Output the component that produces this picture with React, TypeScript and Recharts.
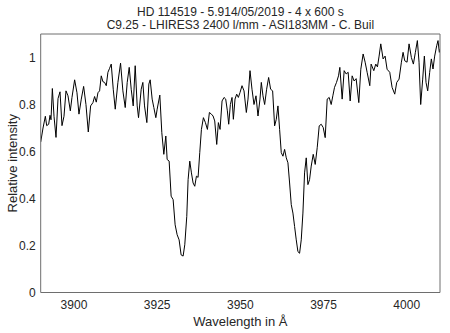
import React from 'react';
import { LineChart, Line, XAxis, YAxis, Label } from 'recharts';

const wavelengths = [
  3890.0, 3890.7, 3891.4, 3891.8, 3892.4, 3892.8, 3893.1, 3893.5, 3894.0, 3894.6,
  3895.2, 3895.8, 3896.4, 3897.0, 3897.6, 3898.2, 3898.9, 3899.4, 3900.2, 3900.9,
  3901.5, 3902.2, 3902.9, 3903.6, 3904.3, 3905.0, 3905.7, 3906.2, 3906.7, 3907.2,
  3907.7, 3908.2, 3908.7, 3909.2, 3909.7, 3910.2, 3910.7, 3911.2, 3911.8, 3912.4,
  3913.2, 3914.0, 3914.7, 3915.4, 3916.0, 3916.6, 3917.2, 3917.8, 3918.4, 3919.0,
  3919.4, 3920.2, 3920.7, 3921.2, 3921.9, 3922.5, 3922.9, 3923.5, 3924.0, 3924.6,
  3925.0, 3925.8, 3926.4, 3927.0, 3927.6, 3928.0, 3928.6, 3929.2, 3929.8, 3930.4,
  3931.0, 3931.6, 3932.2, 3932.8, 3933.3, 3933.9, 3934.3, 3934.8, 3935.3, 3935.8,
  3936.3, 3936.8, 3937.3, 3937.8, 3938.3, 3938.9, 3939.5, 3940.1, 3940.7, 3941.3,
  3941.8, 3942.3, 3942.9, 3943.4, 3943.9, 3944.5, 3945.1, 3945.6, 3946.1, 3946.5,
  3947.0, 3947.5, 3947.9, 3948.4, 3948.9, 3949.4, 3949.9, 3950.5, 3951.1, 3951.8,
  3952.3, 3952.9, 3953.5, 3954.1, 3954.7, 3955.3, 3955.9, 3956.3, 3956.8, 3957.3,
  3957.9, 3958.5, 3959.1, 3959.7, 3960.3, 3960.8, 3961.3, 3961.8, 3962.3, 3962.8,
  3963.3, 3963.8, 3964.3, 3964.8, 3965.3, 3965.8, 3966.3, 3966.8, 3967.3, 3967.8,
  3968.3, 3968.8, 3969.3, 3969.8, 3970.3, 3970.8, 3971.3, 3971.9, 3972.5, 3973.1,
  3973.7, 3974.3, 3974.9, 3975.5, 3976.1, 3976.7, 3977.3, 3977.8, 3978.3, 3978.9,
  3979.5, 3979.9, 3980.6, 3981.2, 3981.8, 3982.4, 3983.0, 3983.6, 3984.2, 3984.8,
  3985.6, 3986.2, 3986.9, 3987.5, 3988.1, 3988.9, 3989.3, 3990.1, 3990.7, 3991.2,
  3991.7, 3992.2, 3992.9, 3993.5, 3994.1, 3994.9, 3995.6, 3996.4, 3997.0, 3997.7,
  3998.4, 3998.9, 3999.4, 4000.1, 4000.7, 4001.4, 4002.0, 4002.6, 4003.2, 4003.7,
  4004.2, 4004.8, 4005.3, 4005.8, 4006.3, 4006.9, 4007.4, 4007.9, 4008.4, 4009.0,
  4009.4, 4009.8, 4010.0,
];

const intensities = [
  0.64, 0.70, 0.75, 0.71, 0.716, 0.754, 0.735, 0.868, 0.75, 0.66,
  0.825, 0.854, 0.71, 0.75, 0.858, 0.837, 0.773, 0.83, 0.905, 0.85,
  0.759, 0.823, 0.877, 0.80, 0.683, 0.794, 0.808, 0.834, 0.81, 0.85,
  0.858, 0.922, 0.897, 0.894, 0.88, 0.937, 0.954, 0.972, 0.865, 0.78,
  0.894, 0.976, 0.858, 0.787, 0.894, 0.958, 0.865, 0.794, 0.965, 0.794,
  0.744, 0.865, 0.894, 0.794, 0.723, 0.887, 0.905, 0.823, 0.787, 0.744,
  0.78, 0.84, 0.68, 0.588, 0.666, 0.566, 0.559, 0.41, 0.395, 0.288,
  0.246, 0.224, 0.16, 0.155, 0.203, 0.324, 0.48, 0.559, 0.509, 0.466,
  0.452, 0.495, 0.49, 0.595, 0.694, 0.744, 0.723, 0.694, 0.766, 0.759,
  0.751, 0.73, 0.63, 0.723, 0.694, 0.815, 0.83, 0.823, 0.773, 0.716,
  0.80, 0.83, 0.737, 0.823, 0.844, 0.83, 0.851, 0.88, 0.858, 0.766,
  0.823, 0.944, 0.865, 0.80, 0.837, 0.751, 0.823, 0.894, 0.837, 0.80,
  0.865, 0.915, 0.865, 0.858, 0.709, 0.737, 0.794, 0.694, 0.595, 0.58,
  0.609, 0.573, 0.552, 0.466, 0.374, 0.338, 0.281, 0.224, 0.174, 0.167,
  0.224, 0.338, 0.509, 0.573, 0.459, 0.48, 0.538, 0.588, 0.545, 0.616,
  0.709, 0.716, 0.702, 0.659, 0.823, 0.83, 0.80, 0.837, 0.873, 0.894,
  0.922, 0.958, 0.823, 0.944, 0.93, 0.937, 0.815, 0.922, 0.9, 0.91,
  0.808, 0.95, 1.015, 0.98, 0.937, 0.88, 0.972, 0.944, 0.972, 0.96,
  1.006, 1.058, 0.994, 1.006, 0.95, 0.937, 0.873, 0.844, 0.894, 0.908,
  0.98, 1.022, 0.986, 0.98, 1.058, 1.0, 0.972, 1.022, 1.072, 0.98,
  0.80, 0.908, 1.006, 0.894, 0.858, 0.937, 0.994, 0.951, 1.006, 1.05,
  1.072, 1.022, 1.036,
];

const xTicks = [3900, 3925, 3950, 3975, 4000];
const yTicks = [0, 0.2, 0.4, 0.6, 0.8, 1];
const xDomain = [3890, 4010];
const yDomain = [0, 1.1];
const titleLines = [
  'HD 114519 - 5.914/05/2019 - 4 x 600 s',
  'C9.25 - LHIRES3 2400 l/mm - ASI183MM - C. Buil',
];
const xLabel = 'Wavelength in Å';
const yLabel = 'Relative intensity';

const data = wavelengths.map((w, i) => ({ w, v: intensities[i] }));

const FONT = '"Liberation Sans", Arial, Helvetica, sans-serif';
const TEXT = '#262626';
const AXIS = '#6e6e6e';

const YLabelContent = (props: any) => {
  const vb = props.viewBox || { x: 0, y: 34, width: 41, height: 258 };
  const cx = vb.x + 12.5;
  const cy = vb.y + vb.height / 2;
  return (
    <text
      x={cx}
      y={cy}
      transform={`rotate(-90 ${cx} ${cy})`}
      textAnchor="middle"
      dominantBaseline="central"
      fontSize={13}
      fontFamily={FONT}
      fill={TEXT}
    >
      {yLabel}
    </text>
  );
};

export default function App() {
  return (
    <div style={{ position: 'absolute', left: 0, top: 0, width: 450, height: 333, background: '#fff', fontFamily: FONT }}>
      <LineChart width={450} height={333} data={data} margin={{ top: 34, right: 10, bottom: 0, left: 0 }}>
        <XAxis
          xAxisId="x"
          dataKey="w"
          type="number"
          domain={xDomain}
          ticks={xTicks}
          allowDataOverflow
          tickLine={false}
          axisLine={{ stroke: AXIS }}
          height={40.5}
          tickSize={6}
          tickMargin={2}
          tick={{ fill: TEXT, fontSize: 12, fontFamily: FONT }}
        >
          <Label value={xLabel} position="insideBottom" offset={7.5} style={{ fontSize: 13, fill: TEXT, fontFamily: FONT }} />
        </XAxis>
        <XAxis
          xAxisId="xb"
          dataKey="w"
          type="number"
          orientation="bottom"
          mirror
          domain={xDomain}
          ticks={xTicks}
          allowDataOverflow
          tick={false}
          tickSize={4}
          axisLine={false}
          tickLine={{ stroke: AXIS }}
        />
        <XAxis
          xAxisId="xt"
          dataKey="w"
          type="number"
          orientation="top"
          mirror
          domain={xDomain}
          ticks={xTicks}
          allowDataOverflow
          tick={false}
          tickSize={4}
          axisLine={{ stroke: AXIS }}
          tickLine={{ stroke: AXIS }}
        />
        <YAxis
          yAxisId="y"
          type="number"
          domain={yDomain}
          ticks={yTicks}
          allowDataOverflow
          width={40.7}
          tickLine={false}
          axisLine={{ stroke: AXIS }}
          tickSize={3}
          tickMargin={2}
          tick={{ fill: TEXT, fontSize: 12, fontFamily: FONT }}
        >
          <Label content={YLabelContent} />
        </YAxis>
        <YAxis
          yAxisId="yl"
          type="number"
          orientation="left"
          mirror
          domain={yDomain}
          ticks={yTicks}
          allowDataOverflow
          tick={false}
          tickSize={4}
          axisLine={false}
          tickLine={{ stroke: AXIS }}
        />
        <YAxis
          yAxisId="yr"
          type="number"
          orientation="right"
          mirror
          domain={yDomain}
          ticks={yTicks}
          allowDataOverflow
          tick={false}
          tickSize={4}
          axisLine={{ stroke: AXIS }}
          tickLine={{ stroke: AXIS }}
        />
        <Line
          xAxisId="x"
          yAxisId="y"
          dataKey="v"
          type="linear"
          stroke="#000"
          strokeWidth={1}
          dot={false}
          isAnimationActive={false}
        />
      </LineChart>
      <svg width={450} height={34} style={{ position: 'absolute', left: 0, top: 0, pointerEvents: 'none' }}>
        <text x={240.4} y={15.8} textAnchor="middle" fontSize={12} fontFamily={FONT} fill={TEXT}>
          {titleLines[0]}
        </text>
        <text x={240.4} y={29.4} textAnchor="middle" fontSize={12} fontFamily={FONT} fill={TEXT}>
          {titleLines[1]}
        </text>
      </svg>
    </div>
  );
}
